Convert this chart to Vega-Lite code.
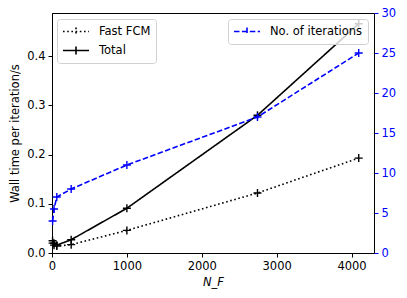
{
  "$schema": "https://vega.github.io/schema/vega-lite/v6.json",
  "width": 322,
  "height": 240,
  "autosize": {"type": "none"},
  "padding": {"left": 52, "top": 13, "right": 33, "bottom": 45},
  "background": "white",
  "config": {
    "font": "DejaVu Sans",
    "view": {"stroke": "black", "strokeWidth": 1},
    "axis": {
      "grid": false,
      "labelFont": "DejaVu Sans",
      "titleFont": "DejaVu Sans",
      "labelFontSize": 11.5,
      "titleFontSize": 11.5,
      "titleFontWeight": "normal",
      "labelColor": "black",
      "titleColor": "black",
      "tickColor": "black",
      "domainColor": "black",
      "tickSize": 4,
      "labelPadding": 3,
      "labelFlush": false,
      "labelOverlap": false
    },
    "legend": {
      "labelFont": "DejaVu Sans",
      "labelFontSize": 11.5,
      "labelColor": "black",
      "padding": 5,
      "strokeColor": "#d0d0d0",
      "fillColor": "rgba(255,255,255,0.8)",
      "cornerRadius": 3,
      "rowPadding": 4,
      "labelOffset": 22,
      "symbolSize": 169,
      "symbolStrokeWidth": 1.6,
      "symbolFillColor": "transparent"
    }
  },
  "data": {
    "values": [
      {"N": 8, "series": "Fast FCM", "value": 0.020},
      {"N": 27, "series": "Fast FCM", "value": 0.016},
      {"N": 64, "series": "Fast FCM", "value": 0.014},
      {"N": 256, "series": "Fast FCM", "value": 0.017},
      {"N": 1000, "series": "Fast FCM", "value": 0.046},
      {"N": 2744, "series": "Fast FCM", "value": 0.122},
      {"N": 4096, "series": "Fast FCM", "value": 0.193},
      {"N": 8, "series": "Total", "value": 0.025},
      {"N": 27, "series": "Total", "value": 0.020},
      {"N": 64, "series": "Total", "value": 0.016},
      {"N": 256, "series": "Total", "value": 0.027},
      {"N": 1000, "series": "Total", "value": 0.091},
      {"N": 2744, "series": "Total", "value": 0.280},
      {"N": 4096, "series": "Total", "value": 0.466},
      {"N": 8, "series": "No. of iterations", "value": 4},
      {"N": 27, "series": "No. of iterations", "value": 5.5},
      {"N": 64, "series": "No. of iterations", "value": 7},
      {"N": 256, "series": "No. of iterations", "value": 8},
      {"N": 1000, "series": "No. of iterations", "value": 11},
      {"N": 2744, "series": "No. of iterations", "value": 17},
      {"N": 4096, "series": "No. of iterations", "value": 25}
    ]
  },
  "layer": [
    {
      "transform": [{"filter": "datum.series !== 'No. of iterations'"}],
      "encoding": {
        "x": {
          "field": "N", "type": "quantitative",
          "scale": {"domain": [0, 4300], "nice": false, "zero": false},
          "axis": {"values": [0, 1000, 2000, 3000, 4000], "format": "d", "title": "N_F", "titleFontStyle": "italic", "titlePadding": 5}
        },
        "y": {
          "field": "value", "type": "quantitative",
          "scale": {"domain": [0, 0.488], "nice": false},
          "axis": {"orient": "left", "values": [0, 0.1, 0.2, 0.3, 0.4], "format": ".1f", "title": "Wall time per iteration/s", "titlePadding": 6}
        }
      },
      "layer": [
        {
          "mark": {"type": "line", "color": "black", "strokeWidth": 1.6},
          "encoding": {
            "strokeDash": {
              "field": "series", "type": "nominal",
              "scale": {"domain": ["Fast FCM", "Total"], "range": [[1.6, 2.6], [1, 0]]},
              "legend": {"title": null, "orient": "none", "legendX": 5, "legendY": 6, "symbolType": "M-1,0H3M1,-0.6V0.6", "symbolStrokeColor": "black"}
            }
          }
        },
        {
          "mark": {"type": "point", "shape": "M-1,0H1M0,-1V1", "filled": false, "color": "black", "size": 64, "strokeWidth": 1.4, "opacity": 1},
          "encoding": {"detail": {"field": "series"}}
        }
      ]
    },
    {
      "transform": [{"filter": "datum.series === 'No. of iterations'"}],
      "encoding": {
        "x": {
          "field": "N", "type": "quantitative",
          "scale": {"domain": [0, 4300], "nice": false, "zero": false},
          "axis": {"values": [0, 1000, 2000, 3000, 4000], "format": "d", "title": "N_F", "titleFontStyle": "italic", "titlePadding": 5}
        },
        "y": {
          "field": "value", "type": "quantitative",
          "scale": {"domain": [0, 30], "nice": false},
          "axis": {"orient": "right", "values": [0, 5, 10, 15, 20, 25, 30], "title": null, "labelColor": "blue", "tickColor": "blue", "domainColor": "black"}
        }
      },
      "layer": [
        {
          "mark": {"type": "line", "strokeWidth": 1.6, "strokeDash": [5.5, 2.4]},
          "encoding": {
            "color": {
              "field": "series", "type": "nominal",
              "scale": {"domain": ["No. of iterations"], "range": ["blue"]},
              "legend": {"title": null, "orient": "none", "legendX": 176, "legendY": 6, "symbolType": "M-1,0H3M1,-0.6V0.6", "symbolDash": [5.5, 2.4]}
            }
          }
        },
        {
          "mark": {"type": "point", "shape": "M-1,0H1M0,-1V1", "filled": false, "color": "blue", "size": 64, "strokeWidth": 1.4, "opacity": 1}
        }
      ]
    }
  ],
  "resolve": {"scale": {"y": "independent", "color": "independent", "strokeDash": "independent"}}
}
